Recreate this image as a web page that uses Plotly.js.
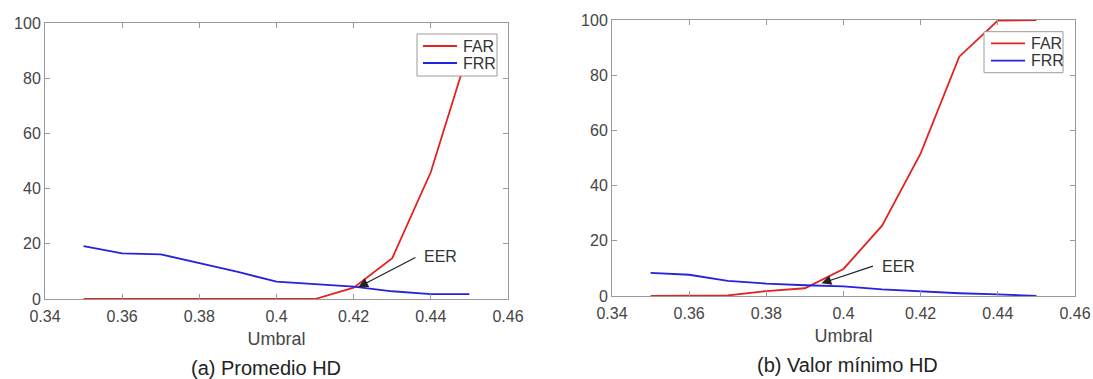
<!DOCTYPE html>
<html>
<head>
<meta charset="utf-8">
<script src="https://cdn.plot.ly/plotly-3.0.1.min.js"></script>
<style>html,body{margin:0;padding:0;background:#fff;}#chart{width:1093px;height:379px;}</style>
</head>
<body>
<div id="chart"></div>
<script>
// Data
var umbral = [0.35, 0.36, 0.37, 0.38, 0.39, 0.40, 0.41, 0.42, 0.43, 0.44, 0.45];
var farPromedio = [0, 0, 0, 0, 0, 0, 0, 4.1, 14.8, 46, 91];
var frrPromedio = [19.2, 16.5, 16.2, 13.1, 9.8, 6.3, 5.3, 4.5, 2.8, 1.8, 1.8];
var farMinimo = [0, 0, 0.2, 1.8, 2.8, 9.8, 25.5, 51.7, 86.7, 99.8, 100];
var frrMinimo = [8.4, 7.7, 5.5, 4.5, 3.9, 3.5, 2.4, 1.6, 1.0, 0.6, 0];
var xTicks = [0.34, 0.36, 0.38, 0.40, 0.42, 0.44, 0.46];
var xTickText = ['0.34', '0.36', '0.38', '0.4', '0.42', '0.44', '0.46'];
var yTicks = [0, 20, 40, 60, 80, 100];
var seriesNames = ['FAR', 'FRR'];
var captions = ['(a) Promedio HD', '(b) Valor mínimo HD'];
var axisLabel = 'Umbral';
var eerLabel = 'EER';

var RED = '#e3211f', BLUE = '#2323e0', AXC = '#9a9a9a';
var W = 1093, H = 379;
var FAM = 'Liberation Sans, Arial, sans-serif';
var tickFont = {family: FAM, size: 16, color: '#454545'};

function px(x) { return x / W; }
function py(y) { return (H - y) / H; }

function xa(domain, anchor) {
  return {domain: domain, anchor: anchor, range: [0.34, 0.46], tickvals: xTicks, ticktext: xTickText,
    ticks: 'inside', ticklen: 5, tickcolor: AXC, showline: true, linecolor: AXC,
    linewidth: 1, mirror: 'ticks', showgrid: false, zeroline: false, tickfont: tickFont,
    ticklabelstandoff: 3,
    title: {text: axisLabel, font: {family: FAM, size: 18, color: '#454545'}, standoff: 8}, fixedrange: true};
}
function ya(domain, anchor) {
  return {domain: domain, anchor: anchor, range: [0, 100], tickvals: yTicks, ticks: 'inside', ticklen: 5,
    tickcolor: AXC, showline: true, linecolor: AXC, linewidth: 1, mirror: 'ticks',
    showgrid: false, zeroline: false, tickfont: tickFont, fixedrange: true};
}

var traces = [
  {x: umbral, y: farPromedio, name: seriesNames[0], mode: 'lines', line: {color: RED, width: 1.8}, xaxis: 'x', yaxis: 'y'},
  {x: umbral, y: frrPromedio, name: seriesNames[1], mode: 'lines', line: {color: BLUE, width: 1.8}, xaxis: 'x', yaxis: 'y'},
  {x: umbral, y: farMinimo, name: seriesNames[0], mode: 'lines', line: {color: RED, width: 1.8}, xaxis: 'x2', yaxis: 'y2'},
  {x: umbral, y: frrMinimo, name: seriesNames[1], mode: 'lines', line: {color: BLUE, width: 1.8}, xaxis: 'x2', yaxis: 'y2'}
];

// Manual MATLAB-style legend boxes
var legends = [
  {box: [417, 34, 497, 76], lineX: [423, 457], rowY: [46, 63], textX: 462},
  {box: [984, 31.7, 1063, 72.7], lineX: [991, 1025], rowY: [43.3, 60.7], textX: 1030}
];
var shapes = [];
var annotations = [];
var colors = [RED, BLUE];
legends.forEach(function (L) {
  shapes.push({type: 'rect', xref: 'paper', yref: 'paper', layer: 'above',
    x0: px(L.box[0]), x1: px(L.box[2]), y0: py(L.box[3]), y1: py(L.box[1]),
    fillcolor: '#ffffff', line: {color: AXC, width: 1}});
  seriesNames.forEach(function (n, i) {
    shapes.push({type: 'line', xref: 'paper', yref: 'paper', layer: 'above',
      x0: px(L.lineX[0]), x1: px(L.lineX[1]), y0: py(L.rowY[i]), y1: py(L.rowY[i]),
      line: {color: colors[i], width: 1.8}});
    annotations.push({xref: 'paper', yref: 'paper', x: px(L.textX), y: py(L.rowY[i]), text: n,
      showarrow: false, xanchor: 'left', yanchor: 'middle', borderpad: 0,
      font: {family: FAM, size: 16, color: '#333'}});
  });
});

annotations = annotations.concat([
  {xref: 'x', yref: 'y', x: 0.4212, y: 4.3, axref: 'x', ayref: 'y', ax: 0.4364, ay: 15.3,
   text: '', showarrow: true, arrowhead: 2, arrowsize: 1.5, arrowwidth: 1.3, arrowcolor: '#222', standoff: 0},
  {xref: 'x', yref: 'y', x: 0.4377, y: 15.3, text: eerLabel, showarrow: false, xanchor: 'left',
   yanchor: 'middle', font: {family: FAM, size: 16, color: '#333'}},
  {xref: 'x2', yref: 'y2', x: 0.3943, y: 4.6, axref: 'x2', ayref: 'y2', ax: 0.408, ay: 11.0,
   text: '', showarrow: true, arrowhead: 2, arrowsize: 1.5, arrowwidth: 1.3, arrowcolor: '#222', standoff: 0},
  {xref: 'x2', yref: 'y2', x: 0.4094, y: 10.6, text: eerLabel, showarrow: false, xanchor: 'left',
   yanchor: 'middle', font: {family: FAM, size: 16, color: '#333'}},
  {xref: 'paper', yref: 'paper', x: px(266), y: py(368), text: captions[0], showarrow: false,
   xanchor: 'center', yanchor: 'middle', font: {family: FAM, size: 20, color: '#222'}},
  {xref: 'paper', yref: 'paper', x: px(847), y: py(365), text: captions[1], showarrow: false,
   xanchor: 'center', yanchor: 'middle', font: {family: FAM, size: 20, color: '#222'}}
]);

var layout = {
  width: W, height: H, margin: {l: 0, r: 0, t: 0, b: 0},
  paper_bgcolor: '#fff', plot_bgcolor: '#fff', showlegend: false,
  xaxis: xa([px(45), px(508)], 'y'),
  yaxis: ya([py(299), py(23)], 'x'),
  xaxis2: xa([px(612), px(1075)], 'y2'),
  yaxis2: ya([py(296), py(20)], 'x2'),
  shapes: shapes,
  annotations: annotations
};

Plotly.newPlot('chart', traces, layout, {staticPlot: true, displayModeBar: false});
</script>
</body>
</html>
